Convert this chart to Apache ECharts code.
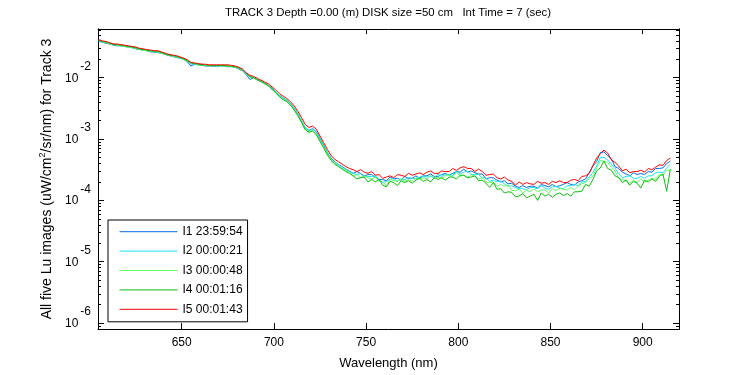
<!DOCTYPE html>
<html>
<head>
<meta charset="utf-8">
<script src="https://cdn.jsdelivr.net/npm/echarts@6/dist/echarts.min.js"></script>
<style>
  html, body { margin: 0; padding: 0; background: #fff; }
  #chart { width: 750px; height: 375px; }
</style>
</head>
<body>
<div id="chart"></div>
<script>
// wavelength (nm) and log10(Lu) of the five images
const wavelength = [605,607,609,611,613,615,617,619,621,623,625,627,629,631,633,635,637,639,641,643,645,647,649,651,653,655,657,659,661,663,665,667,669,671,673,675,677,679,681,683,685,687,689,691,693,695,697,699,701,703,705,707,709,711,713,715,717,719,721,723,725,727,729,731,733,735,737,739,741,743,745,747,749,751,753,755,757,759,761,763,765,767,769,771,773,775,777,779,781,783,785,787,789,791,793,795,797,799,801,803,805,807,809,811,813,815,817,819,821,823,825,827,829,831,833,835,837,839,841,843,845,847,849,851,853,855,857,859,861,863,865,867,869,871,873,875,877,879,881,883,885,887,889,891,893,895,897,899,901,903,905,907,909,911,913,915];

const lu1 = [-1.41,-1.42,-1.44,-1.45,-1.47,-1.48,-1.48,-1.49,-1.50,-1.51,-1.53,-1.54,-1.55,-1.56,-1.58,-1.58,-1.59,-1.60,-1.62,-1.64,-1.65,-1.67,-1.68,-1.70,-1.74,-1.81,-1.78,-1.79,-1.80,-1.81,-1.81,-1.81,-1.82,-1.81,-1.81,-1.82,-1.82,-1.83,-1.86,-1.89,-1.95,-2.03,-2.00,-2.04,-2.06,-2.10,-2.13,-2.17,-2.23,-2.29,-2.33,-2.37,-2.42,-2.50,-2.59,-2.70,-2.82,-2.86,-2.83,-2.88,-2.99,-3.10,-3.22,-3.31,-3.37,-3.42,-3.45,-3.49,-3.52,
  -3.56,-3.53,-3.56,-3.60,-3.58,-3.58,-3.62,-3.66,-3.66,-3.68,-3.62,-3.65,-3.64,-3.67,-3.61,-3.64,-3.64,-3.60,-3.64,-3.60,-3.60,-3.57,-3.61,-3.61,-3.58,-3.56,-3.59,-3.56,-3.53,-3.54,-3.49,-3.54,-3.52,-3.55,-3.57,-3.57,-3.65,-3.63,-3.63,-3.67,-3.70,-3.68,-3.73,-3.72,-3.77,-3.79,-3.76,-3.79,-3.77,-3.77,-3.80,-3.74,-3.76,-3.78,-3.74,-3.78,-3.76,-3.74,-3.71,-3.74,-3.75,-3.70,-3.68,-3.65,-3.55,-3.44,-3.37,-3.22,-3.21,-3.27,-3.32,-3.45,-3.48,-3.54,-3.57,-3.60,-3.55,-3.58,-3.56,-3.58,-3.53,-3.54,-3.48,-3.48,-3.47,-3.40,-3.36];

const lu2 = [-1.40,-1.42,-1.43,-1.45,-1.46,-1.47,-1.48,-1.49,-1.50,-1.51,-1.52,-1.53,-1.55,-1.56,-1.57,-1.58,-1.58,-1.60,-1.62,-1.63,-1.65,-1.66,-1.68,-1.70,-1.73,-1.78,-1.78,-1.79,-1.80,-1.80,-1.80,-1.81,-1.81,-1.81,-1.81,-1.81,-1.82,-1.83,-1.85,-1.88,-1.94,-1.99,-2.00,-2.03,-2.06,-2.09,-2.12,-2.18,-2.23,-2.29,-2.33,-2.37,-2.42,-2.50,-2.59,-2.70,-2.81,-2.86,-2.84,-2.89,-3.00,-3.11,-3.22,-3.32,-3.38,-3.42,-3.46,-3.49,-3.53,
  -3.56,-3.58,-3.56,-3.62,-3.61,-3.61,-3.60,-3.66,-3.71,-3.69,-3.66,-3.64,-3.69,-3.65,-3.66,-3.63,-3.64,-3.65,-3.62,-3.60,-3.62,-3.61,-3.63,-3.57,-3.61,-3.58,-3.58,-3.59,-3.53,-3.57,-3.54,-3.52,-3.58,-3.58,-3.58,-3.63,-3.63,-3.69,-3.67,-3.70,-3.68,-3.73,-3.77,-3.76,-3.79,-3.81,-3.81,-3.83,-3.79,-3.79,-3.81,-3.76,-3.80,-3.82,-3.78,-3.77,-3.80,-3.81,-3.76,-3.76,-3.74,-3.76,-3.70,-3.69,-3.62,-3.54,-3.44,-3.30,-3.30,-3.34,-3.41,-3.47,-3.57,-3.63,-3.61,-3.60,-3.64,-3.64,-3.61,-3.64,-3.60,-3.60,-3.55,-3.54,-3.55,-3.47,-3.41];

const lu3 = [-1.40,-1.41,-1.43,-1.45,-1.46,-1.47,-1.48,-1.49,-1.50,-1.51,-1.52,-1.54,-1.55,-1.56,-1.57,-1.57,-1.58,-1.60,-1.62,-1.63,-1.65,-1.66,-1.67,-1.70,-1.73,-1.76,-1.77,-1.79,-1.79,-1.80,-1.81,-1.80,-1.81,-1.81,-1.81,-1.81,-1.82,-1.83,-1.85,-1.88,-1.93,-1.98,-2.01,-2.03,-2.07,-2.10,-2.13,-2.19,-2.24,-2.31,-2.35,-2.38,-2.44,-2.52,-2.61,-2.72,-2.84,-2.88,-2.86,-2.92,-3.03,-3.13,-3.24,-3.33,-3.40,-3.44,-3.48,-3.51,-3.55,
  -3.61,-3.58,-3.63,-3.60,-3.63,-3.65,-3.62,-3.69,-3.70,-3.76,-3.66,-3.68,-3.69,-3.65,-3.69,-3.66,-3.69,-3.63,-3.65,-3.63,-3.65,-3.59,-3.64,-3.62,-3.65,-3.59,-3.59,-3.61,-3.54,-3.61,-3.59,-3.63,-3.58,-3.61,-3.65,-3.63,-3.70,-3.71,-3.70,-3.77,-3.74,-3.77,-3.75,-3.84,-3.84,-3.82,-3.88,-3.84,-3.86,-3.81,-3.86,-3.83,-3.83,-3.88,-3.81,-3.84,-3.80,-3.82,-3.83,-3.79,-3.83,-3.77,-3.73,-3.71,-3.65,-3.60,-3.47,-3.35,-3.36,-3.38,-3.46,-3.52,-3.64,-3.66,-3.68,-3.72,-3.67,-3.71,-3.65,-3.70,-3.67,-3.64,-3.66,-3.58,-3.59,-3.51,-3.51];

const lu4 = [-1.39,-1.41,-1.42,-1.44,-1.46,-1.46,-1.47,-1.48,-1.49,-1.50,-1.51,-1.53,-1.54,-1.55,-1.56,-1.57,-1.57,-1.59,-1.61,-1.63,-1.64,-1.65,-1.67,-1.69,-1.72,-1.76,-1.77,-1.78,-1.79,-1.79,-1.80,-1.80,-1.80,-1.80,-1.80,-1.81,-1.81,-1.82,-1.84,-1.87,-1.93,-1.98,-2.00,-2.03,-2.06,-2.09,-2.13,-2.19,-2.25,-2.31,-2.36,-2.39,-2.45,-2.53,-2.62,-2.73,-2.85,-2.89,-2.87,-2.93,-3.04,-3.15,-3.26,-3.35,-3.41,-3.45,-3.49,-3.53,-3.56,
  -3.60,-3.65,-3.63,-3.62,-3.70,-3.66,-3.70,-3.66,-3.75,-3.78,-3.69,-3.71,-3.76,-3.68,-3.71,-3.68,-3.72,-3.67,-3.64,-3.69,-3.66,-3.70,-3.63,-3.66,-3.63,-3.67,-3.62,-3.62,-3.65,-3.59,-3.59,-3.63,-3.62,-3.60,-3.68,-3.67,-3.72,-3.79,-3.71,-3.82,-3.81,-3.88,-3.86,-3.87,-3.94,-3.93,-3.89,-3.96,-3.93,-3.90,-4.00,-3.88,-3.93,-3.90,-3.95,-3.90,-3.88,-3.92,-3.89,-3.93,-3.86,-3.86,-3.85,-3.74,-3.77,-3.66,-3.52,-3.47,-3.36,-3.48,-3.51,-3.60,-3.63,-3.71,-3.67,-3.75,-3.69,-3.72,-3.80,-3.67,-3.70,-3.65,-3.69,-3.61,-3.57,-3.85,-3.49];

const lu5 = [-1.38,-1.40,-1.41,-1.43,-1.45,-1.45,-1.46,-1.47,-1.48,-1.49,-1.50,-1.52,-1.53,-1.54,-1.55,-1.56,-1.56,-1.58,-1.60,-1.62,-1.63,-1.64,-1.66,-1.68,-1.71,-1.75,-1.76,-1.77,-1.78,-1.78,-1.79,-1.79,-1.79,-1.79,-1.79,-1.79,-1.80,-1.81,-1.83,-1.86,-1.92,-1.96,-1.98,-2.01,-2.04,-2.07,-2.10,-2.15,-2.20,-2.26,-2.30,-2.34,-2.39,-2.46,-2.55,-2.65,-2.76,-2.81,-2.79,-2.84,-2.95,-3.06,-3.17,-3.27,-3.33,-3.37,-3.41,-3.45,-3.48,
  -3.50,-3.53,-3.50,-3.54,-3.56,-3.53,-3.59,-3.58,-3.64,-3.62,-3.60,-3.63,-3.58,-3.59,-3.61,-3.56,-3.59,-3.57,-3.55,-3.58,-3.54,-3.52,-3.56,-3.56,-3.52,-3.53,-3.53,-3.48,-3.51,-3.47,-3.45,-3.48,-3.48,-3.53,-3.49,-3.53,-3.59,-3.58,-3.57,-3.63,-3.65,-3.62,-3.67,-3.69,-3.75,-3.70,-3.74,-3.71,-3.73,-3.74,-3.69,-3.72,-3.71,-3.74,-3.69,-3.71,-3.68,-3.71,-3.71,-3.67,-3.66,-3.68,-3.61,-3.60,-3.56,-3.43,-3.31,-3.24,-3.18,-3.23,-3.34,-3.38,-3.44,-3.52,-3.49,-3.55,-3.53,-3.53,-3.51,-3.54,-3.48,-3.50,-3.46,-3.42,-3.43,-3.35,-3.31];

const seriesNames = ['I1 23:59:54', 'I2 00:00:21', 'I3 00:00:48', 'I4 00:01:16', 'I5 00:01:43'];
const seriesColors = ['#0a6ee0', '#1fe3ef', '#63ff63', '#0dbd0d', '#ff0000'];
const xTicks = [650, 700, 750, 800, 850, 900];
const yMajor = [-6, -5, -4, -3, -2];

const xMin = 604.6, xMax = 919.7;
const yMin = -6.097, yMax = -1.206;

// minor ticks at 2..9 x 10^n
const yMinor = [];
for (let n = -7; n <= -2; n++) {
  for (let k = 2; k <= 9; k++) {
    const v = n + Math.log10(k);
    if (v > yMin + 0.005 && v < yMax - 0.005) yMinor.push(v);
  }
}

const font = 'Liberation Sans, Arial, Helvetica, sans-serif';
const black = '#000';
const all = [lu1, lu2, lu3, lu4, lu5];

function yAxisDef(pos, ticks, len, labels) {
  return {
    type: 'value', position: pos, min: yMin, max: yMax,
    splitLine: { show: false },
    axisLine: { show: true, onZero: false, lineStyle: { color: black, width: 1 } },
    axisTick: { show: true, inside: true, length: len, customValues: ticks, lineStyle: { color: black } },
    axisLabel: labels ? {
      show: true, customValues: yMajor, margin: 7, color: black,
      formatter: v => '{b|10}{s|' + v + '}',
      rich: {
        b: { fontSize: 12, fontFamily: font, color: black, padding: [12, 0, 0, 0] },
        s: { fontSize: 12, fontFamily: font, color: black, padding: [0, 0, 11, 2] }
      },
      padding: [0, 0, 11, 0]
    } : { show: false }
  };
}

const chart = echarts.init(document.getElementById('chart'));
chart.setOption({
  animation: false,
  backgroundColor: '#fff',
  title: {
    text: 'TRACK 3 Depth =0.00 (m) DISK size =50 cm   Int Time = 7 (sec)',
    left: 388, textAlign: 'center', top: 7, padding: 0,
    textStyle: { fontSize: 11.4, fontWeight: 'normal', color: black, fontFamily: font }
  },
  grid: { left: 98, top: 29, right: 71, bottom: 44, containLabel: false },
  legend: {
    data: seriesNames, orient: 'vertical', left: 108, top: 220,
    itemWidth: 58, itemHeight: 12, itemGap: 7.4, padding: [5.7, 5, 6.5, 11],
    itemStyle: { opacity: 0 },
    lineStyle: { width: 1 },
    borderColor: black, borderWidth: 1, borderRadius: 0, backgroundColor: '#fff',
    selectedMode: false,
    textStyle: { fontSize: 12, color: black, fontFamily: font }
  },
  xAxis: [
    {
      type: 'value', position: 'bottom', min: xMin, max: xMax,
      name: 'Wavelength (nm)', nameLocation: 'middle', nameGap: 28,
      nameTextStyle: { fontSize: 13, color: black, fontFamily: font },
      splitLine: { show: false },
      axisLine: { onZero: false, lineStyle: { color: black, width: 1 } },
      axisTick: { inside: true, length: 6, customValues: xTicks, lineStyle: { color: black } },
      axisLabel: { customValues: xTicks, margin: 8, fontSize: 12, color: black, fontFamily: font }
    },
    {
      type: 'value', position: 'top', min: xMin, max: xMax,
      splitLine: { show: false },
      axisLine: { onZero: false, lineStyle: { color: black, width: 1 } },
      axisTick: { inside: true, length: 5, customValues: xTicks, lineStyle: { color: black } },
      axisLabel: { show: false }
    }
  ],
  yAxis: [
    Object.assign(yAxisDef('left', yMajor, 6, true), {
      name: 'All five Lu images (uW/cm{sup|2}/sr/nm) for Track 3',
      nameLocation: 'middle', nameGap: 41, nameRotate: 90,
      nameTextStyle: {
        fontSize: 14, color: black, fontFamily: font,
        rich: { sup: { fontSize: 9, color: black, fontFamily: font, padding: [0, 0, 9, 0] } }
      }
    }),
    yAxisDef('left', yMinor, 3, false),
    yAxisDef('right', yMajor, 6, false),
    yAxisDef('right', yMinor, 3, false)
  ],
  series: seriesNames.map((name, i) => ({
    name: name, type: 'line', xAxisIndex: 0, yAxisIndex: 0,
    symbol: 'none', showSymbol: false, silent: true,
    color: seriesColors[i],
    lineStyle: { width: 1, color: seriesColors[i] },
    data: wavelength.map((w, j) => [w, all[i][j]])
  }))
});
</script>
</body>
</html>
